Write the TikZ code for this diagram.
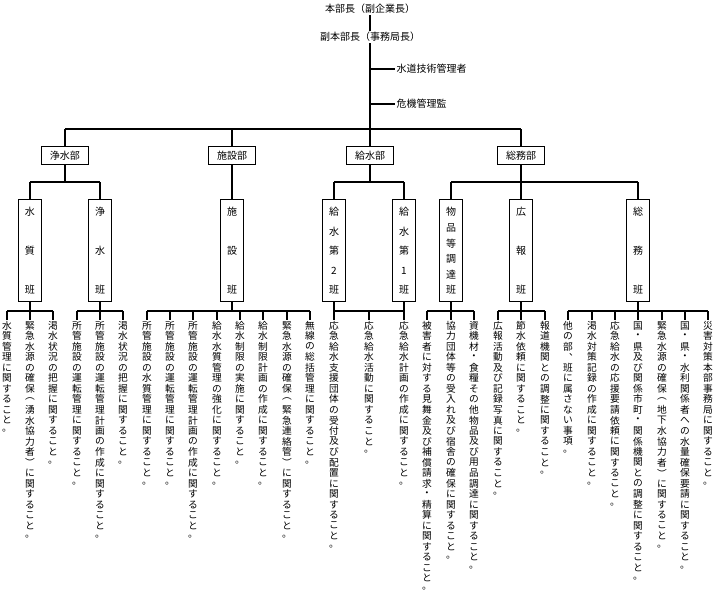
\documentclass[tikz,border=0pt]{standalone}
\usepackage{fontspec}
\setmainfont{Noto Sans CJK JP}
\def\vchar#1{\hbox to 9pt{\hss#1\hss}}
\def\vtaux#1{\ifx\relax#1\else\vbox to 7.9pt{\vss\vchar{#1}\vss}\expandafter\vtaux\fi}
\def\vt#1{\vbox{\offinterlineskip\vtaux#1\relax}}
\tikzset{
 ln/.style={line width=0.8pt},
 dept/.style={draw,line width=0.9pt,minimum width=35pt,minimum height=13pt,inner sep=0pt,font=\fontsize{7.5}{9}\selectfont},
 teambox/.style={draw,line width=0.9pt,minimum width=17pt,minimum height=77pt,inner sep=0pt},
 item/.style={anchor=north,inner sep=0pt,font=\fontsize{7.3}{8}\selectfont},
 top/.style={inner sep=1pt,font=\fontsize{7.5}{9}\selectfont}
}
\begin{document}
\begin{tikzpicture}[x=0.75pt,y=-0.75pt]
\useasboundingbox (0,0) rectangle (726,593);
% top
\node[top] (hb) at (370,9) {本部長（副企業長）};
\node[top] (fhb) at (370,37) {副本部長（事務局長）};
\coordinate (bus) at (370,129);
\draw[ln] (hb.south) -- (fhb.north);
\draw[ln] (fhb.south) -- (bus);
\node[top,anchor=west] (sg) at (395,69) {水道技術管理者};
\node[top,anchor=west] (kk) at (395,104) {危機管理監};
\draw[ln] (370,69) -- (sg.west);
\draw[ln] (370,104) -- (kk.west);
% departments
\node[dept] (d1) at (65,155.5) {浄水部};
\node[dept] (d2) at (232,155.5) {施設部};
\node[dept] (d3) at (370,155.5) {給水部};
\node[dept] (d4) at (521,155.5) {総務部};
\draw[ln] (65,129) -- (521,129);
\foreach \d in {d1,d2,d3,d4}{\draw[ln] (\d.north|-bus) -- (\d.north);}
% teams
\newcommand\team[4]{%
 \node[teambox] (#1) at (#2,250.5) {};
 \foreach \c [count=\i] in {#4}{
   \pgfmathsetmacro\yy{212+(\i-1)*78/(#3-1)}
   \node[inner sep=0pt,font=\fontsize{7.5}{9}\selectfont] at (#2,\yy) {\c};}
}
\team{t1}{30}{3}{水,質,班}
\team{t2}{100}{3}{浄,水,班}
\team{t3}{232}{3}{施,設,班}
\team{t4}{334}{5}{給,水,第,2,班}
\team{t5}{404}{5}{給,水,第,1,班}
\team{t6}{451}{6}{物,品,等,調,達,班}
\team{t7}{521}{3}{広,報,班}
\team{t8}{638}{3}{総,務,班}
% dept to team
\draw[ln] (d1.south) -- (65,182) (30,182) -- (100,182);
\draw[ln] (30,182) -- (t1.north) (100,182) -- (t2.north);
\draw[ln] (d2.south) -- (t3.north);
\draw[ln] (d3.south) -- (370,182) (334,182) -- (404,182);
\draw[ln] (334,182) -- (t4.north) (404,182) -- (t5.north);
\draw[ln] (d4.south) -- (t7.north) (451,182) -- (638,182);
\draw[ln] (451,182) -- (t6.north) (638,182) -- (t8.north);
% items
\newcommand\items[3]{% team, x1, x2
 \draw[ln] (#1.south) -- (#1.south|-0,311);
 \draw[ln] (#2,311) -- (#3,311);
}
\newcommand\itm[3]{% name x text
 \node[item] (#1) at (#2,320) {\vt{#3}};
 \draw[ln] (#2,311) -- (#1.north);
}
\items{t1}{7}{53}
\itm{a1}{7}{水質管理に関すること。}
\itm{a2}{30}{緊急水源の確保︵湧水協力者︶に関すること。}
\itm{a3}{53}{渇水状況の把握に関すること。}
\items{t2}{77}{123}
\itm{b1}{77}{所管施設の運転管理に関すること。}
\itm{b2}{100}{所管施設の運転管理計画の作成に関すること。}
\itm{b3}{123}{渇水状況の把握に関すること。}
\items{t3}{147}{310}
\itm{c1}{147}{所管施設の水質管理に関すること。}
\itm{c2}{170}{所管施設の運転管理に関すること。}
\itm{c3}{193}{所管施設の運転管理計画の作成に関すること。}
\itm{c4}{217}{給水水質管理の強化に関すること。}
\itm{c5}{240}{給水制限の実施に関すること。}
\itm{c6}{263}{給水制限計画の作成に関すること。}
\itm{c7}{287}{緊急水源の確保︵緊急連絡管︶に関すること。}
\itm{c8}{310}{無線の総括管理に関すること。}
\items{t4}{334}{404}
\draw[ln] (t5.south) -- (404,311);
\itm{e1}{334}{応急給水支援団体の受付及び配置に関すること。}
\itm{e2}{369}{応急給水活動に関すること。}
\itm{e3}{404}{応急給水計画の作成に関すること。}
\items{t6}{427}{474}
\itm{f1}{427}{被害者に対する見舞金及び補償請求・精算に関すること。}
\itm{f2}{451}{協力団体等の受入れ及び宿舎の確保に関すること。}
\itm{f3}{474}{資機材・食糧その他物品及び用品調達に関すること。}
\items{t7}{498}{545}
\itm{g1}{498}{広報活動及び記録写真に関すること。}
\itm{g2}{521}{節水依頼に関すること。}
\itm{g3}{545}{報道機関との調整に関すること。}
\items{t8}{568}{708}
\itm{h1}{568}{他の部︑班に属さない事項。}
\itm{h2}{592}{渇水対策記録の作成に関すること。}
\itm{h3}{615}{応急給水の応援要請依頼に関すること。}
\itm{h4}{638}{国・県及び関係市町・関係機関との調整に関すること。}
\itm{h5}{662}{緊急水源の確保︵地下水協力者︶に関すること。}
\itm{h6}{685}{国・県・水利関係者への水量確保要請に関すること。}
\itm{h7}{708}{災害対策本部事務局に関すること。}
\end{tikzpicture}
\end{document}
